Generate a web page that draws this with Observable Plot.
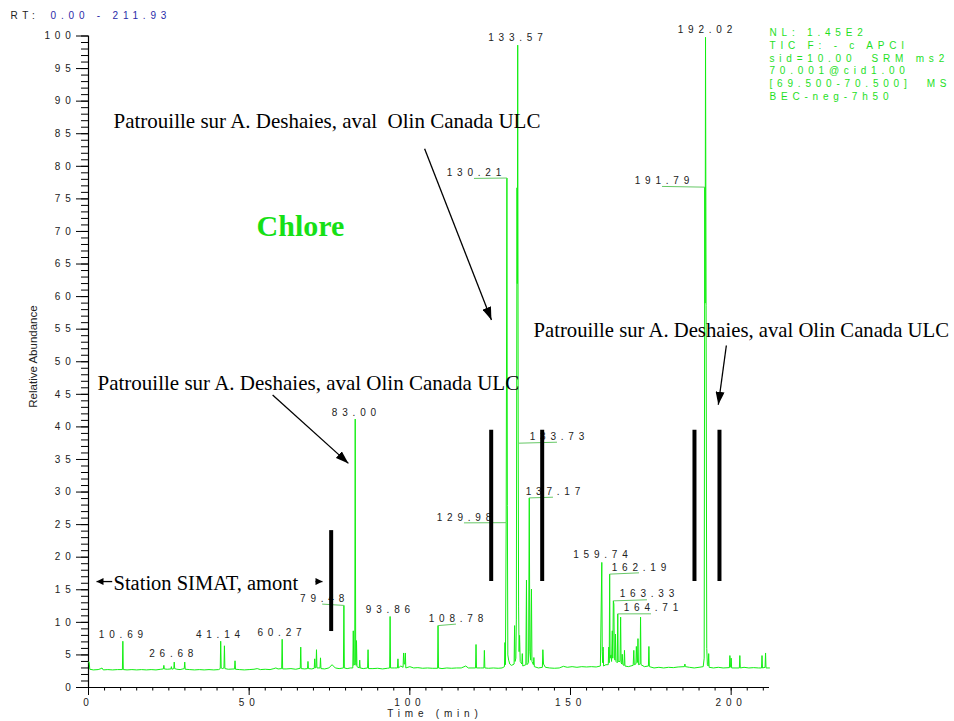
<!DOCTYPE html>
<html><head><meta charset="utf-8">
<script src="https://cdn.jsdelivr.net/npm/d3@7"></script>
<script src="https://cdn.jsdelivr.net/npm/@observablehq/plot@0.6"></script>
<style>
body{margin:0;background:#fff}
svg text{white-space:pre}
g[font-family="Liberation Sans"]{letter-spacing:4.8px}
</style></head><body><div id="chart"></div>
<script>
// chromatogram trace: [time (min), relative abundance]
const trace = [
[0,3.9],[0.2,3.9],[0.4,2.8],[1.5,2.7],[3,2.75],[3.9,2.9],[4.2,3.0],[4.6,2.7],[6,2.75],[7.5,2.7],[9,2.75],[10.55,2.75],[10.69,7.1],[10.83,2.75],[12,2.7],[13.5,2.75],[15,2.7],[16.5,2.75],[18,2.7],[19.5,2.75],[21,2.7],[22.5,2.8],[23.3,2.85],[23.45,3.4],[23.6,2.85],[24.5,2.8],[25.65,2.85],[25.8,3.2],[25.95,2.8],[26.55,2.9],[26.68,3.9],[26.82,2.9],[27.5,2.8],[28.5,2.75],[29.8,2.9],[29.95,3.9],[30.1,2.8],[31.5,2.75],[33,2.7],[34.5,2.75],[36,2.7],[37.5,2.75],[39,2.7],[40.5,2.75],[41.0,2.9],[41.14,7.1],[41.3,3.0],[41.6,2.9],[42.15,3.0],[42.3,6.4],[42.45,2.9],[43.5,2.8],[45.45,2.85],[45.6,4.1],[45.75,2.8],[47,2.75],[48.5,2.7],[50,2.75],[51.5,2.8],[52.5,2.9],[53.5,2.75],[55,2.8],[56.5,2.75],[57.7,2.9],[58.3,3.0],[59,2.85],[60.12,2.9],[60.27,7.4],[60.42,2.85],[61.5,2.85],[63,2.9],[64.5,2.8],[65.9,2.95],[66.05,6.2],[66.2,2.9],[67.3,2.85],[68.15,2.9],[68.3,4.0],[68.45,2.9],[69.5,2.85],[70.25,2.95],[70.4,4.4],[70.55,3.0],[70.8,3.1],[70.95,5.8],[71.1,3.0],[72.05,3.0],[72.2,4.55],[72.35,2.9],[73.5,2.85],[74.8,3.0],[75.8,3.5],[76.8,3.0],[78,2.9],[79.33,3.0],[79.48,12.6],[79.62,3.0],[80.5,2.9],[81.5,3.0],[82.25,3.0],[82.4,8.7],[82.55,3.4],[82.85,3.6],[83.0,41.2],[83.15,3.8],[83.28,3.4],[83.4,7.2],[83.55,3.2],[84.25,3.0],[84.4,4.2],[84.55,3.0],[85.5,2.9],[86.85,3.0],[87.0,5.8],[87.15,2.9],[88.5,2.9],[90,2.95],[91.5,2.85],[93.0,2.95],[93.72,3.0],[93.86,10.9],[94.0,3.0],[95.2,3.0],[96.15,3.0],[96.3,4.4],[96.45,3.0],[97.2,3.3],[97.9,3.1],[98.05,5.3],[98.25,3.6],[98.45,3.6],[98.6,5.3],[98.75,3.0],[100,3.2],[101.2,3.0],[102.5,3.05],[104,2.95],[105.5,3.0],[107,2.95],[108.64,2.95],[108.78,9.5],[108.92,3.0],[110,2.9],[111.5,3.0],[113,2.95],[114.5,3.0],[116,3.0],[117.4,3.3],[118.2,3.0],[120.45,3.0],[120.6,6.6],[120.75,3.0],[122,3.0],[123.05,3.0],[123.2,5.7],[123.35,3.0],[124.5,2.95],[126,3.0],[127.5,2.95],[128.7,3.0],[129.45,3.2],[129.6,6.9],[129.75,3.5],[129.98,25.3],[130.21,78.2],[130.35,27.9],[130.5,5.0],[130.75,4.2],[131.1,3.6],[131.6,3.4],[132.1,3.5],[132.45,3.6],[132.6,9.5],[132.75,4.0],[133.0,4.5],[133.15,10.5],[133.35,76.7],[133.45,62],[133.57,98.6],[133.73,37.5],[133.85,12.5],[134.0,5.5],[134.15,8.0],[134.35,4.0],[134.85,3.6],[135.0,5.2],[135.15,3.3],[136.1,3.5],[136.3,16.5],[136.45,3.5],[136.95,3.8],[137.17,29.1],[137.35,5.5],[137.6,4.2],[137.85,15.1],[138.0,4.0],[138.45,3.5],[138.6,4.6],[138.75,3.2],[140,3.0],[141.25,3.1],[141.4,5.8],[141.6,3.6],[142.2,3.1],[143.5,3.0],[145,2.95],[146.5,3.0],[147.8,3.25],[149,3.1],[150.5,3.2],[152,3.1],[153.5,3.2],[155,3.15],[156.5,3.2],[158,3.15],[159.3,3.3],[159.74,19.2],[159.88,5.5],[160.02,3.8],[160.15,6.2],[160.3,3.3],[161.0,3.5],[161.75,3.5],[161.9,6.2],[162.05,3.8],[162.19,17.4],[162.33,4.5],[162.6,5.0],[162.78,4.0],[163.0,8.7],[163.15,4.5],[163.33,13.3],[163.5,12.8],[163.65,4.5],[163.85,4.2],[164.0,8.2],[164.15,4.0],[164.55,3.8],[164.71,11.3],[164.85,4.0],[165.4,4.0],[165.6,10.8],[165.75,3.8],[165.95,3.6],[166.1,5.1],[166.3,3.5],[166.65,3.4],[166.8,5.7],[166.95,3.3],[168,3.2],[169.5,3.4],[169.7,5.7],[169.85,3.5],[170.35,3.6],[170.5,6.3],[170.7,3.8],[170.85,3.9],[171.0,7.5],[171.15,3.5],[171.65,3.6],[171.8,10.8],[171.95,3.5],[173,3.2],[174.25,3.3],[174.4,6.3],[174.55,3.2],[176,3.0],[177.5,3.1],[179,3.0],[180.5,3.1],[182,3.05],[183.5,3.15],[185.45,3.2],[185.6,3.6],[185.75,3.2],[187,3.1],[188.5,3.0],[190,3.1],[191.3,3.2],[191.6,4.5],[191.79,76.8],[191.9,59.0],[192.02,99.8],[192.2,58.6],[192.4,6.0],[192.6,3.5],[192.85,3.3],[193.0,5.2],[193.15,3.1],[194.5,3.0],[196,3.1],[197.5,3.0],[199.45,3.05],[199.6,4.9],[199.75,3.1],[199.88,3.2],[200.0,4.5],[200.15,3.0],[201.5,3.0],[202.55,3.0],[202.7,4.9],[202.85,3.0],[204,3.1],[205.5,3.0],[207,3.05],[208.5,3.0],[209.45,3.0],[209.6,4.9],[209.75,3.0],[210.55,3.1],[210.7,5.3],[210.85,3.0],[211.93,3.0]
];

// labelled peaks
const peakTimes   = [10.69, 26.68, 41.14, 60.27, 79.48, 83.00, 93.86, 108.78, 129.98, 130.21, 133.57, 133.73, 137.17, 159.74, 162.19, 163.33, 164.71, 191.79, 192.02];
const peakHeights = [7.1, 3.9, 7.1, 7.4, 12.6, 41.2, 10.9, 9.5, 25.3, 78.2, 98.6, 37.5, 29.1, 19.2, 17.4, 13.3, 11.3, 76.8, 99.8];
const peakLeader  = [0,0,0,0,1,0,0,1,1,1,0,1,1,0,1,1,1,1,0];
// label placement (data coordinates, layout only)
const labelAtT = [10.11, 25.77, 40.30, 59.44, 72.72, 82.62, 93.20, 114.36, 116.85, 119.96, 132.88, 145.79, 144.55, 159.33, 171.31, 173.80, 175.04, 178.47, 191.85];
const labelAtV = [8.13, 5.17, 8.13, 8.39, 13.65, 42.22, 11.96, 10.58, 26.12, 78.99, 99.74, 38.50, 30.06, 20.40, 18.45, 14.31, 12.16, 77.76, 100.92];

// axis ticks
const yTicks = d3.range(0, 101, 5);
const yMinor = d3.range(0, 101, 1);
const xTicks = [0, 50, 100, 150, 200];
const xMinor = d3.range(0, 211, 5);

// texts
const rtLabel = "RT:";
const rtRange = "0.00 - 211.93";
const infoLines = ["NL: 1.45E2", "TIC F: - c APCI", "sid=10.00  SRM ms2", "70.001@cid1.00", "[69.500-70.500]  MS", "BEC-neg-7h50"];
const annot = "Patrouille sur A. Deshaies, aval Olin Canada ULC";
const annotTop = "Patrouille sur A. Deshaies, aval  Olin Canada ULC";
const titleText = "Chlore";
const stationText = "Station SIMAT, amont";
const xTitle = "Time (min)";
const yTitle = "Relative Abundance";

const data = trace.map(([t, v]) => ({t, v}));
const peaks = peakTimes.map((t, i) => ({t, v: peakHeights[i], label: t.toFixed(2), lt: labelAtT[i], lv: labelAtV[i], leader: peakLeader[i]}));

function head(len, wid) {
  return () => {
    const ns = "http://www.w3.org/2000/svg";
    const m = document.createElementNS(ns, "marker");
    m.setAttribute("viewBox", `${-len} ${-wid / 2} ${len} ${wid}`);
    m.setAttribute("markerWidth", len);
    m.setAttribute("markerHeight", wid);
    m.setAttribute("markerUnits", "userSpaceOnUse");
    m.setAttribute("orient", "auto");
    m.setAttribute("refX", 0);
    m.setAttribute("refY", 0);
    const p = document.createElementNS(ns, "path");
    p.setAttribute("d", `M${-len},${-wid / 2}L0,0L${-len},${wid / 2}Z`);
    p.setAttribute("fill", "#000");
    p.setAttribute("stroke", "none");
    m.appendChild(p);
    return m;
  };
}

const mono = "Liberation Sans";
const serif = "Liberation Serif, Times New Roman, serif";
const green = "#12ee12";

const chart = Plot.plot({
  width: 954, height: 721,
  marginTop: 35.5, marginBottom: 34, marginLeft: 88, marginRight: 185,
  x: {domain: [0, 211.93]},
  y: {domain: [0, 100]},
  style: {background: "#fff", overflow: "visible"},
  marks: [
    // axes
    Plot.ruleX([0], {y1: 0, y2: 100, stroke: "#000", strokeWidth: 1.2}),
    Plot.ruleY([0], {x1: 0, x2: 211.93, stroke: "#000", strokeWidth: 1.2}),
    Plot.axisY(yMinor, {tickSize: 7, tickFormat: () => "", label: null, stroke: "#000"}),
    Plot.axisY(yTicks, {tickSize: 12, tickPadding: 1, label: null, stroke: "#000", fill: "#222", fontSize: 10, fontFamily: mono}),
    Plot.axisX(xMinor, {tickSize: 3.5, tickFormat: () => "", label: null, stroke: "#000"}),
    Plot.axisX(xTicks, {tickSize: 8, tickPadding: 3, label: null, stroke: "#000", fill: "#222", fontSize: 10, fontFamily: mono}),
    Plot.text([xTitle], {x: 107.8, y: -4.1, text: d => d, fontSize: 10, fontFamily: mono, fill: "#222"}),
    Plot.text([yTitle], {x: -17.1, y: 50.8, text: d => d, rotate: -90, fontSize: 11.5, fontFamily: "Liberation Sans, Arial, sans-serif", fill: "#222"}),
    // trace
    Plot.line(data, {x: "t", y: "v", stroke: green, strokeWidth: 1}),
    // peak leaders and labels
    Plot.link(peaks.filter(d => d.leader), {x1: "t", y1: "v", x2: "lt", y2: d => d.lv - 0.85, stroke: "#66c866", strokeWidth: 1}),
    Plot.text(peaks, {x: "lt", y: "lv", text: "label", dx: 2.4, fontSize: 10, fontFamily: mono, fill: "#222"}),
    // header texts
    Plot.text([rtLabel], {x: -24.3, y: 103.07, text: d => d, textAnchor: "start", fontSize: 10, fontFamily: mono, fill: "#222"}),
    Plot.text([rtRange], {x: -11.8, y: 103.07, text: d => d, textAnchor: "start", fontSize: 10, fontFamily: mono, fill: "#2a2aa8"}),
    Plot.text([infoLines.join("\n")], {x: 211.93, y: 101.4, text: d => d, textAnchor: "start", lineAnchor: "top", lineHeight: 1.28, fontSize: 10, fontFamily: mono, fill: "#1ee01e"}),
    // annotations
    Plot.text([annotTop], {x: 7.78, y: 86.95, text: d => d, textAnchor: "start", fontSize: 21, fontFamily: serif, fill: "#000"}),
    Plot.text([annot], {x: 2.8, y: 46.65, text: d => d, textAnchor: "start", fontSize: 21, fontFamily: serif, fill: "#000"}),
    Plot.text([annot], {x: 138.5, y: 54.75, text: d => d, textAnchor: "start", fontSize: 20.7, fontFamily: serif, fill: "#000"}),
    Plot.text([titleText], {x: 52.3, y: 70.8, text: d => d, textAnchor: "start", fontSize: 30, fontWeight: "bold", fontFamily: serif, fill: "#16e016"}),
    Plot.text([stationText], {x: 7.78, y: 16.0, text: d => d, textAnchor: "start", fontSize: 20.5, fontFamily: serif, fill: "#000"}),
    // arrows
    Plot.link([{x1: 57.3, y1: 44.9, x2: 80.9, y2: 34.4}, {x1: 104.6, y1: 82.7, x2: 125.4, y2: 56.4}, {x1: 198.5, y1: 52.5, x2: 196.0, y2: 43.4}],
      {x1: "x1", y1: "y1", x2: "x2", y2: "y2", stroke: "#000", strokeWidth: 1.3, markerEnd: head(13, 9)}),
    Plot.link([{x1: 7.38, y1: 16.26, x2: 2.49, y2: 16.26}, {x1: 70.64, y1: 16.26, x2: 72.82, y2: 16.26}],
      {x1: "x1", y1: "y1", x2: "x2", y2: "y2", stroke: "#000", strokeWidth: 1.3, markerEnd: head(7, 7)}),
    // black bars
    Plot.ruleX([{t: 75.52, lo: 8.59, hi: 24.08}, {t: 125.32, lo: 16.26, hi: 39.48}, {t: 141.19, lo: 16.26, hi: 39.48}, {t: 188.58, lo: 16.26, hi: 39.48}, {t: 196.36, lo: 16.26, hi: 39.48}],
      {x: "t", y1: "lo", y2: "hi", stroke: "#000", strokeWidth: 4})
  ]
});
document.getElementById("chart").appendChild(chart);
</script></body></html>
